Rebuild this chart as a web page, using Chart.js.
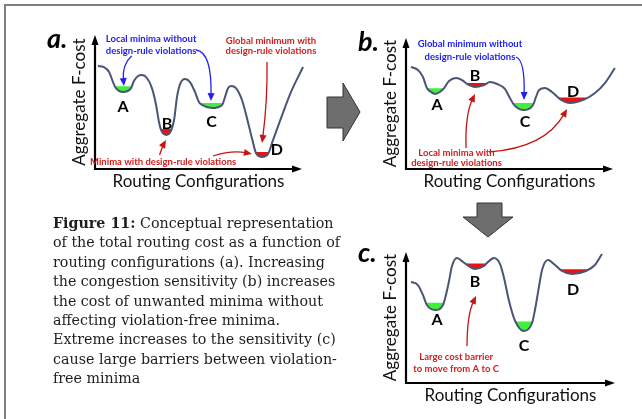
<!DOCTYPE html>
<html><head><meta charset="utf-8">
<script src="https://cdn.jsdelivr.net/npm/chart.js@4.4.1/dist/chart.umd.min.js"></script>
<style>
html,body{margin:0;padding:0;background:#fff;width:642px;height:419px;overflow:hidden}
#wrap{position:relative;width:642px;height:419px;background:#fff}
canvas{position:absolute;left:0;top:0}
svg{position:absolute;left:0;top:0}
#caption{position:absolute;left:53px;top:214px;font-family:'DejaVu Serif',serif;font-size:14.25px;line-height:19.4px;color:#1e1e1e;white-space:nowrap}
#caption b{font-weight:bold}
</style></head><body>
<div id="wrap">
<svg width="642" height="419">
  <path d="M5 419 L5 5 L642 5" fill="none" stroke="#808080" stroke-width="2"/>
  <polygon points="327,97 343,97 343,83 360,112 343,141 343,128 327,128" fill="#6e6e6e" stroke="#333" stroke-width="1"/>
  <polygon points="477,203 502,203 502,217 513,217 488,237 463,217 477,217" fill="#6e6e6e" stroke="#333" stroke-width="1"/>
</svg>
<canvas id="ca" width="642" height="419"></canvas>
<canvas id="cb" width="642" height="419"></canvas>
<canvas id="cc" width="642" height="419"></canvas>
<div id="caption">
<div><b>Figure 11:</b> Conceptual representation</div>
<div>of the total routing cost as a function of</div>
<div>routing configurations (a). Increasing</div>
<div>the congestion sensitivity (b) increases</div>
<div>the cost of unwanted minima without</div>
<div>affecting violation-free minima.</div>
<div>Extreme increases to the sensitivity (c)</div>
<div>cause large barriers between violation-</div>
<div>free minima</div>
</div>
</div>
<script>
// ================= DATA =================
// Panel a: aggregate F-cost vs routing configuration
const configA = [1.4,4.3,6.8,8.7,10.1,13.5,17.4,18.8,20.8,22.7,25.1,27.5,29.5,30.9,32.1,34.5,36.7,38.2,39.6,41.1,43.5,45.9,48.3,50.2,51.7,56.5,61.4,62.8,64.3,65.7,68.1,71.0,73.4,75.8,78.0,80.7,83.6,86.0,89.9,94.7,100.5];
const costA   = [76.9,76.1,72.4,64.9,60.4,57.5,60.4,65.7,69.4,70.1,67.9,60.4,47.8,35.1,28.4,25.4,28.4,36.6,53.7,63.4,67.2,64.9,57.5,50.0,47.8,45.5,47.8,53.7,60.4,61.9,60.4,51.5,38.1,23.1,11.2,9.0,11.2,21.6,38.1,57.5,76.1];
// Panel b
const configB = [2.4,5.8,8.2,10.1,12.1,14.0,16.4,18.4,20.8,24.2,27.1,29.5,33.3,37.7,40.6,44.0,47.8,50.2,52.2,56.5,61.4,62.8,64.3,67.1,70.5,74.4,79.2,86.5,91.3,96.1,100.9];
const costB   = [77.9,75.6,70.2,61.8,58.8,57.3,58.8,61.8,67.2,69.5,67.9,64.9,62.6,64.1,66.4,64.9,61.1,54.2,48.9,45.0,48.9,55.0,60.3,61.8,58.8,53.4,50.4,53.4,58.0,65.6,77.1];
// Panel c
const configC = [2.4,5.7,8.1,10.0,13.9,17.7,19.1,20.6,22.0,24.4,27.3,29.2,33.0,37.3,39.2,42.1,45.0,46.9,49.3,52.2,56.5,60.3,61.7,63.2,65.1,67.9,71.3,74.6,79.4,86.1,90.4,93.8];
const costC   = [77.1,74.8,67.2,59.5,55.7,59.5,67.2,77.9,89.3,95.4,92.4,90.1,87.0,89.3,92.4,95.4,90.8,80.2,62.6,47.3,39.7,45.8,55.7,69.5,86.3,93.9,90.1,85.5,83.2,85.5,90.1,98.5];

// Minima (wells): names, whether they have design-rule violations, and fill extent
const minimaNames = ['A','B','C','D'];
const violation   = [false, true, false, true];
const wellFromA = [8.5, 30.5, 50, 76.5], wellToA = [19, 38.5, 63, 85.5], wellLevelA = [61.8, 29.8, 49.2, 12.6];
const wellFromB = [9, 28, 50, 72],       wellToB = [20, 39.5, 63, 90],   wellLevelB = [61.7, 65.6, 50.3, 54.6];
const wellFromC = [8, 28, 50, 72],       wellToC = [19, 39, 62, 89],     wellLevelC = [61.3, 91.3, 47.0, 86.9];
// Label anchor values for A..D
const labelXA = [13.5, 34.8, 56.3, 87.9], labelYA = [42.9, 29.5, 31.3, 10.1];
const labelXB = [15.0, 33.3, 57.5, 80.7], labelYB = [44.7, 66.8, 32.4, 55.3];
const labelXC = [14.8, 33.0, 56.5, 79.9], labelYC = [43.9, 73.3, 24.8, 66.8];

const xTitle = 'Routing Configurations';
const yTitle = 'Aggregate F-cost';

// ================= STYLE =================
const BLUE = '#2020f4', RED = '#d21e1e', RED_ARROW = '#c41414';
const GREEN_FILL = '#3ff03a', RED_FILL = '#ee1010';
const CURVE = '#4a5576';

const notesA = [
  {lines:['Local minima without','design-rule violations'], x:27.1, y:[97.0,88.1], color:BLUE},
  {lines:['Global minimum with','design-rule violations'], x:85.0, y:[95.5,88.1], color:RED},
  {lines:['Minima with design-rule violations'], x:32.9, y:[5.2], color:RED}
];
const arrowsA = [
  {from:[17.7,84.3], via:[13.0,78.0], to:[14.0,61.9], color:BLUE},
  {from:[48.8,88.8], via:[56.5,87.3], to:[56.0,50.7], color:BLUE},
  {from:[83.1,79.9], via:[83.4,51.5], to:[80.7,19.4], color:RED_ARROW},
  {from:[31.2,10.4], via:[32.8,17.5], to:[34.3,21.6], color:RED_ARROW},
  {from:[57.0,9.7], via:[66.2,14.2], to:[75.8,11.2], color:RED_ARROW}
];
const notesB = [
  {lines:['Global minimum without','design-rule violations'], x:30.9, y:[95.4,85.5], color:BLUE},
  {lines:['Local minima with','design-rule violations'], x:24.4, y:[12.0,4.4], color:RED}
];
const arrowsB = [
  {from:[53.1,85.5], via:[57.5,83.2], to:[57.0,52.7], color:BLUE},
  {from:[29.0,16.0], via:[28.5,41.2], to:[33.3,57.3], color:RED_ARROW},
  {from:[40.1,13.0], via:[67.1,16.0], to:[77.8,45.8], color:RED_ARROW}
];
const notesC = [
  {lines:['Large cost barrier','to move from A to C'], x:24.0, y:[20.1,10.5], color:RED}
];
const arrowsC = [
  {from:[29.2,28.2], via:[29.2,51.9], to:[33.5,66.4], color:RED_ARROW}
];

const FONT = "Lato, 'Open Sans', sans-serif";

function arrowHead(ctx, tx, ty, ang, len, wid) {
  ctx.beginPath();
  ctx.moveTo(tx, ty);
  ctx.lineTo(tx - Math.cos(ang)*len + Math.sin(ang)*wid/2, ty - Math.sin(ang)*len - Math.cos(ang)*wid/2);
  ctx.lineTo(tx - Math.cos(ang)*len - Math.sin(ang)*wid/2, ty - Math.sin(ang)*len + Math.cos(ang)*wid/2);
  ctx.closePath();
  ctx.fill();
}

const decor = {
  id: 'decor',
  afterDatasetsDraw(chart, args, o) {
    const {ctx, chartArea: a, scales: {x, y}} = chart;
    const P = (v) => [x.getPixelForValue(v[0]), y.getPixelForValue(v[1])];
    ctx.save();
    // axes with arrow heads
    ctx.strokeStyle = '#000'; ctx.fillStyle = '#000'; ctx.lineWidth = 2.2;
    ctx.beginPath(); ctx.moveTo(a.left, a.bottom + 1); ctx.lineTo(a.left, a.top + 6); ctx.stroke();
    arrowHead(ctx, a.left, a.top, -Math.PI/2, 10, 7);
    ctx.beginPath(); ctx.moveTo(a.left - 1, a.bottom); ctx.lineTo(a.right - 6, a.bottom); ctx.stroke();
    arrowHead(ctx, a.right, a.bottom, 0, 10, 7);
    // axis titles
    ctx.fillStyle = '#111';
    ctx.font = '17px ' + FONT;
    ctx.textAlign = 'center'; ctx.textBaseline = 'alphabetic';
    ctx.fillText(xTitle, (a.left + a.right)/2, a.bottom + 18);
    ctx.save();
    ctx.translate(a.left - 10, (a.top + a.bottom)/2);
    ctx.rotate(-Math.PI/2);
    ctx.fillText(yTitle, 0, 0);
    ctx.restore();
    // panel letter
    ctx.font = 'italic bold 27px ' + FONT;
    ctx.textAlign = 'left';
    ctx.fillStyle = '#000';
    ctx.fillText(o.letter, a.left - 48, a.top + o.letterDy);
    // minima labels
    ctx.font = 'bold 16px ' + FONT;
    ctx.textAlign = 'center';
    o.lx.forEach((lx, i) => {
      const p = P([lx, o.ly[i]]);
      ctx.fillText(minimaNames[i], p[0], p[1]);
    });
    // annotation texts
    ctx.font = 'bold 9.5px ' + FONT;
    ctx.textBaseline = 'middle';
    o.notes.forEach(n => {
      ctx.fillStyle = n.color;
      n.lines.forEach((t, i) => {
        const p = P([n.x, n.y[i]]);
        ctx.fillText(t, p[0], p[1]);
      });
    });
    // annotation arrows
    o.arrows.forEach(ar => {
      const p0 = P(ar.from), p1 = P(ar.via), p2 = P(ar.to);
      const ang = Math.atan2(p2[1]-p1[1], p2[0]-p1[0]);
      const hl = 8, hw = 7;
      ctx.strokeStyle = ar.color; ctx.fillStyle = ar.color; ctx.lineWidth = 1.3;
      ctx.beginPath(); ctx.moveTo(p0[0], p0[1]);
      ctx.quadraticCurveTo(p1[0], p1[1], p2[0] - Math.cos(ang)*hl*0.7, p2[1] - Math.sin(ang)*hl*0.7);
      ctx.stroke();
      arrowHead(ctx, p2[0], p2[1], ang, hl, hw);
    });
    ctx.restore();
  }
};

function makePanel(id, xs, ys, wFrom, wTo, wLevel, lx, ly, notes, arrows, letter, letterDy, pad) {
  const datasets = [{
    data: xs.map((v, i) => ({x: v, y: ys[i]})),
    borderColor: CURVE, borderWidth: 2, pointRadius: 0,
    cubicInterpolationMode: 'monotone', fill: false, clip: false
  }];
  wFrom.forEach((f, i) => {
    datasets.push({
      data: [{x: f, y: wLevel[i]}, {x: wTo[i], y: wLevel[i]}],
      borderWidth: 0, borderColor: 'rgba(0,0,0,0)', pointRadius: 0,
      fill: {target: 0, above: violation[i] ? RED_FILL : GREEN_FILL, below: 'rgba(0,0,0,0)'},
      clip: false
    });
  });
  return new Chart(document.getElementById(id), {
    type: 'line',
    data: {datasets},
    options: {
      responsive: false, animation: false, devicePixelRatio: 1,
      layout: {padding: pad},
      plugins: {legend: {display: false}, tooltip: {enabled: false},
        decor: {lx, ly, notes, arrows, letter, letterDy}},
      scales: {
        x: {type: 'linear', min: 0, max: 100, display: false},
        y: {type: 'linear', min: 0, max: 100, display: false}
      }
    },
    plugins: [decor]
  });
}

makePanel('ca', configA, costA, wellFromA, wellToA, wellLevelA, labelXA, labelYA, notesA, arrowsA, 'a.', 13,
  {left: 95, top: 35, right: 340, bottom: 250});
makePanel('cb', configB, costB, wellFromB, wellToB, wellLevelB, labelXB, labelYB, notesB, arrowsB, 'b.', 13,
  {left: 406, top: 38, right: 29, bottom: 250});
makePanel('cc', configC, costC, wellFromC, wellToC, wellLevelC, labelXC, labelYC, notesC, arrowsC, 'c.', 10,
  {left: 406, top: 252, right: 27, bottom: 36});
</script>
</body></html>
